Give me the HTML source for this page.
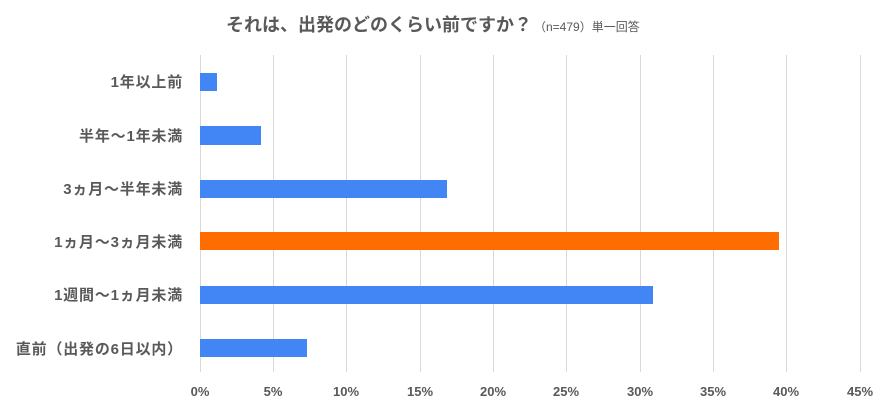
<!DOCTYPE html>
<html><head><meta charset="utf-8"><style>
html,body{margin:0;padding:0;background:#fff;}
svg{display:block;font-family:"Liberation Sans","Noto Sans CJK JP",sans-serif;}
</style></head><body>
<svg width="886" height="406" viewBox="0 0 886 406">
<rect width="886" height="406" fill="#fff"/>
<text x="226" y="31" font-size="18" font-weight="bold" fill="#595959">それは、出発のどのくらい前ですか？<tspan font-size="12" font-weight="normal" dx="2">（n=479）単一回答</tspan></text>
<g stroke="#d9d9d9" stroke-width="1">
<line x1="200.5" y1="55" x2="200.5" y2="372"/>
<line x1="273.5" y1="55" x2="273.5" y2="372"/>
<line x1="346.5" y1="55" x2="346.5" y2="372"/>
<line x1="420.5" y1="55" x2="420.5" y2="372"/>
<line x1="493.5" y1="55" x2="493.5" y2="372"/>
<line x1="566.5" y1="55" x2="566.5" y2="372"/>
<line x1="640.5" y1="55" x2="640.5" y2="372"/>
<line x1="713.5" y1="55" x2="713.5" y2="372"/>
<line x1="786.5" y1="55" x2="786.5" y2="372"/>
<line x1="860.5" y1="55" x2="860.5" y2="372"/>
</g>
<g fill="#4285f4">
<rect x="200" y="73" width="17" height="18"/>
<rect x="200" y="126" width="61" height="19"/>
<rect x="200" y="180" width="247" height="18"/>
<rect x="200" y="286" width="453" height="18"/>
<rect x="200" y="339" width="107" height="18"/>
</g>
<rect x="200" y="232" width="579" height="18" fill="#ff6d01"/>
<g font-size="15" font-weight="bold" fill="#595959" text-anchor="end" letter-spacing="0.8">
<text x="183" y="87">1年以上前</text>
<text x="183" y="141">半年～1年未満</text>
<text x="183" y="194">3ヵ月～半年未満</text>
<text x="183" y="247">1ヵ月～3ヵ月未満</text>
<text x="183" y="300">1週間～1ヵ月未満</text>
<text x="183" y="354">直前（出発の6日以内）</text>
</g>
<g font-size="13" font-weight="bold" fill="#595959" text-anchor="middle">
<text x="200" y="396">0%</text>
<text x="273" y="396">5%</text>
<text x="346" y="396">10%</text>
<text x="420" y="396">15%</text>
<text x="493" y="396">20%</text>
<text x="566" y="396">25%</text>
<text x="640" y="396">30%</text>
<text x="713" y="396">35%</text>
<text x="786" y="396">40%</text>
<text x="860" y="396">45%</text>
</g>
</svg>
</body></html>
